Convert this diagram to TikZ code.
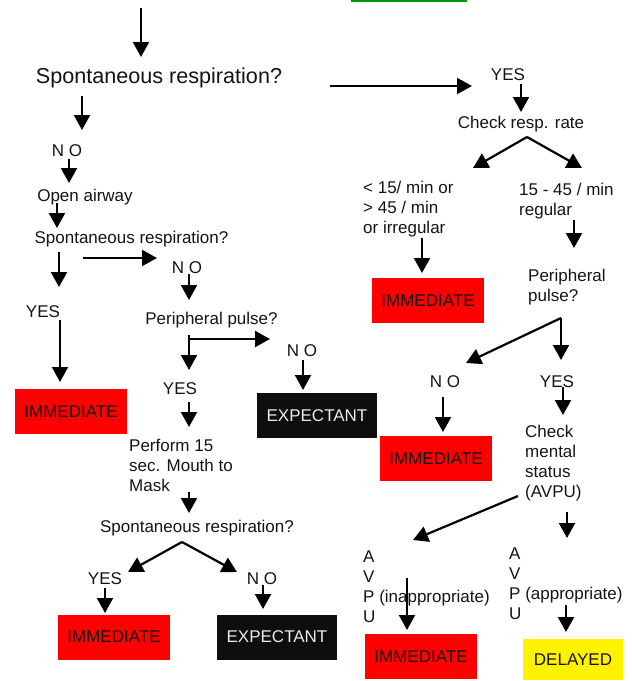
\documentclass[tikz,border=0pt]{standalone}
\usepackage{fontspec}
\setmainfont{Liberation Sans}
\usetikzlibrary{arrows.meta}
\definecolor{grn}{RGB}{0,153,0}
\definecolor{txtc}{RGB}{20,20,20}
\definecolor{expc}{RGB}{14,14,14}
\definecolor{exptxt}{RGB}{235,235,235}
\begin{document}
\begin{tikzpicture}[x=1pt,y=-1pt,
  arr/.style={line width=2.2pt,-{Triangle[width=16pt,length=15pt]}},
  txt/.style={inner sep=0pt,font=\fontsize{17}{20}\selectfont,text=txtc},
  bigtxt/.style={inner sep=0pt,font=\fontsize{21.6}{24}\selectfont,text=txtc},
  ltxt/.style={txt,align=left,anchor=west},
  tbox/.style={inner sep=0pt,minimum width=112pt,minimum height=45pt,font=\fontsize{17}{20}\selectfont},
  immbox/.style={tbox,fill=red,text=txtc},
  expbox/.style={tbox,fill=expc,text=exptxt,minimum width=120pt},
  delbox/.style={tbox,fill=yellow,text=txtc,minimum width=100pt,minimum height=41pt}
]
\useasboundingbox (0,0) rectangle (632,681);
\fill[grn] (351,0) rectangle (467,2);

% ---------- top ----------
\coordinate (a1s) at (141,8); \coordinate (a1e) at (141,57);
\draw[arr] (a1s) -- (a1e);
\node[bigtxt] (sr1) at (159,78) {Spontaneous respiration?};
\coordinate (a2s) at (330,86); \coordinate (a2e) at (472,86);
\draw[arr] (a2s) -- (a2e);

% ---------- right branch ----------
\node[txt] (yes1) at (508,75) {YES};
\coordinate (a3s) at (521,84); \coordinate (a3e) at (521,112);
\draw[arr] (a3s) -- (a3e);
\node[txt] (crr) at (521,124) {Check resp. rate};
\coordinate (ap1) at (527,137);
\coordinate (ap1l) at (473,168); \coordinate (ap1r) at (582,168);
\draw[arr] (ap1) -- (ap1l);
\draw[arr] (ap1) -- (ap1r);
\node[ltxt] (irr) at (363,209) {< 15/ min or\\> 45 / min\\or irregular};
\node[ltxt] (reg) at (519,201.5) {15 - 45 / min\\regular};
\coordinate (a4s) at (422,238); \coordinate (a4e) at (422,273);
\draw[arr] (a4s) -- (a4e);
\node[immbox] (imm1) at (428,300.5) {IMMEDIATE};
\coordinate (a5s) at (574,220); \coordinate (a5e) at (574,248);
\draw[arr] (a5s) -- (a5e);
\node[ltxt] (pp2) at (528,287) {Peripheral\\pulse?};
\coordinate (ap2) at (561,318);
\coordinate (ap2l) at (466,363); \coordinate (ap2d) at (561,360);
\draw[arr] (ap2) -- (ap2l);
\draw[arr] (ap2) -- (ap2d);
\node[txt] (no4) at (445,382) {N O};
\node[txt] (yes4) at (557,382) {YES};
\coordinate (a6s) at (443,397); \coordinate (a6e) at (443,432);
\draw[arr] (a6s) -- (a6e);
\node[immbox] (imm2) at (436,458.5) {IMMEDIATE};
\coordinate (a7s) at (563,387); \coordinate (a7e) at (563,415);
\draw[arr] (a7s) -- (a7e);
\node[ltxt] (cms) at (525,463) {Check\\mental\\status\\(AVPU)};
\coordinate (a8s) at (518,496); \coordinate (a8e) at (413,540);
\draw[arr] (a8s) -- (a8e);
\coordinate (a9s) at (567,512); \coordinate (a9e) at (567,538);
\draw[arr] (a9s) -- (a9e);
\node[ltxt] (avpu1) at (363,587) {A\\V\\P (inappropriate)\\U};
\coordinate (a10s) at (407,578); \coordinate (a10e) at (407,630);
\draw[arr] (a10s) -- (a10e);
\node[immbox] (imm3) at (421,656.5) {IMMEDIATE};
\node[ltxt] (avpu2) at (509,584) {A\\V\\P (appropriate)\\U};
\coordinate (a11s) at (566,605); \coordinate (a11e) at (566,632);
\draw[arr] (a11s) -- (a11e);
\node[delbox] (del) at (573,659.5) {DELAYED};

% ---------- left branch ----------
\coordinate (b1s) at (82,96); \coordinate (b1e) at (82,130);
\draw[arr] (b1s) -- (b1e);
\node[txt] (no1) at (67,151) {N O};
\coordinate (b2s) at (69,159); \coordinate (b2e) at (69,183);
\draw[arr] (b2s) -- (b2e);
\node[txt] (oa) at (85,197) {Open airway};
\coordinate (b3s) at (57,203); \coordinate (b3e) at (57,228);
\draw[arr] (b3s) -- (b3e);
\node[txt] (sr2) at (131.5,239) {Spontaneous respiration?};
\coordinate (b4s) at (59,252); \coordinate (b4e) at (59,287);
\draw[arr] (b4s) -- (b4e);
\coordinate (b5s) at (83,258); \coordinate (b5e) at (157,258);
\draw[arr] (b5s) -- (b5e);
\node[txt] (no2) at (187,268) {N O};
\coordinate (b6s) at (189,274); \coordinate (b6e) at (189,300);
\draw[arr] (b6s) -- (b6e);
\node[txt] (yes2) at (43,312) {YES};
\coordinate (b7s) at (60,320); \coordinate (b7e) at (60,382);
\draw[arr] (b7s) -- (b7e);
\node[immbox] (imm4) at (71,411.5) {IMMEDIATE};
\node[txt] (pp1) at (211.5,320) {Peripheral pulse?};
\coordinate (b8s) at (189,335); \coordinate (b8e) at (189,370);
\draw[arr] (b8s) -- (b8e);
\coordinate (b9s) at (189,339); \coordinate (b9e) at (270,339);
\draw[arr] (b9s) -- (b9e);
\node[txt] (no3) at (302,351) {N O};
\coordinate (b10s) at (303,360); \coordinate (b10e) at (303,390);
\draw[arr] (b10s) -- (b10e);
\node[expbox] (exp1) at (317,415.5) {EXPECTANT};
\node[txt] (yes3) at (180,389) {YES};
\coordinate (b11s) at (189,402); \coordinate (b11e) at (189,427);
\draw[arr] (b11s) -- (b11e);
\node[ltxt] (perf) at (129,465) {Perform 15\\sec. Mouth to\\Mask};
\coordinate (b12s) at (189,492); \coordinate (b12e) at (189,513);
\draw[arr] (b12s) -- (b12e);
\node[txt] (sr3) at (197,528) {Spontaneous respiration?};
\coordinate (ap3) at (182,542);
\coordinate (ap3l) at (128,572); \coordinate (ap3r) at (237,572);
\draw[arr] (ap3) -- (ap3l);
\draw[arr] (ap3) -- (ap3r);
\node[txt] (yes5) at (105,579) {YES};
\node[txt] (no5) at (262,579) {N O};
\coordinate (b13s) at (105,588); \coordinate (b13e) at (105,613);
\draw[arr] (b13s) -- (b13e);
\coordinate (b14s) at (263,585); \coordinate (b14e) at (263,609);
\draw[arr] (b14s) -- (b14e);
\node[immbox] (imm5) at (114,637) {IMMEDIATE};
\node[expbox] (exp2) at (277,637) {EXPECTANT};
\end{tikzpicture}
\end{document}
